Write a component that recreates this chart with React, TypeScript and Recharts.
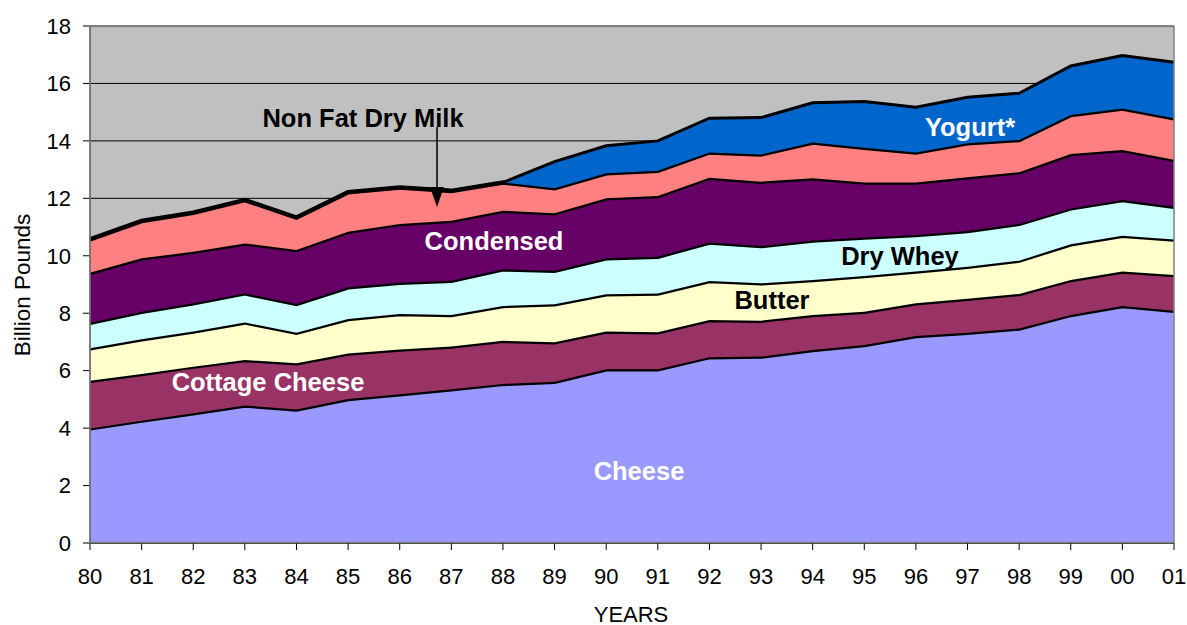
import { AreaChart, Area, XAxis, YAxis, CartesianGrid } from "recharts";

const years = ["80", "81", "82", "83", "84", "85", "86", "87", "88", "89", "90", "91", "92", "93", "94", "95", "96", "97", "98", "99", "00", "01"];

// billion pounds, each product's own share of the stack
const cheese = [3.99, 4.26, 4.52, 4.79, 4.65, 5.01, 5.18, 5.35, 5.54, 5.61, 6.05, 6.05, 6.47, 6.49, 6.72, 6.89, 7.21, 7.32, 7.47, 7.94, 8.25, 8.09];
const cottage = [1.66, 1.62, 1.62, 1.58, 1.61, 1.59, 1.56, 1.49, 1.5, 1.38, 1.31, 1.29, 1.29, 1.25, 1.22, 1.16, 1.14, 1.18, 1.2, 1.22, 1.2, 1.24];
const butter = [1.13, 1.21, 1.22, 1.31, 1.06, 1.2, 1.23, 1.1, 1.21, 1.32, 1.3, 1.35, 1.36, 1.3, 1.22, 1.25, 1.1, 1.12, 1.16, 1.24, 1.25, 1.24];
const dryWhey = [0.89, 0.96, 0.99, 1.01, 1.0, 1.1, 1.09, 1.19, 1.28, 1.17, 1.25, 1.28, 1.34, 1.3, 1.37, 1.34, 1.27, 1.24, 1.28, 1.25, 1.24, 1.14];
const condensed = [1.74, 1.86, 1.79, 1.74, 1.88, 1.94, 2.05, 2.09, 2.04, 2.0, 2.09, 2.11, 2.26, 2.24, 2.17, 1.91, 1.83, 1.87, 1.8, 1.89, 1.74, 1.63];
const nonFatDryMilk = [1.16, 1.3, 1.36, 1.51, 1.13, 1.37, 1.27, 1.04, 0.98, 0.87, 0.87, 0.88, 0.88, 0.95, 1.24, 1.21, 1.05, 1.19, 1.12, 1.36, 1.45, 1.45];
const yogurt = [0, 0, 0, 0, 0, 0, 0, 0, 0, 0.93, 0.96, 1.04, 1.19, 1.28, 1.39, 1.61, 1.57, 1.6, 1.63, 1.71, 1.84, 1.95];

const yTicks = [0, 2, 4, 6, 8, 10, 12, 14, 16, 18];

const data = years.map((year, i) => ({
  year,
  cheese: cheese[i],
  cottage: cottage[i],
  butter: butter[i],
  dryWhey: dryWhey[i],
  condensed: condensed[i],
  nonFatDryMilk: nonFatDryMilk[i],
  yogurt: yogurt[i],
}));

const font = "Arial, 'Liberation Sans', sans-serif";

const series = [
  { key: "cheese", fill: "#9999FF" },
  { key: "cottage", fill: "#993366" },
  { key: "butter", fill: "#FFFFCC" },
  { key: "dryWhey", fill: "#CCFFFF" },
  { key: "condensed", fill: "#660066" },
  { key: "nonFatDryMilk", fill: "#FF8080" },
  { key: "yogurt", fill: "#0066CC" },
];

const labelStyle = { fontFamily: font, fontWeight: 700, fontSize: 25.5 };

export default function App() {
  return (
    <div style={{ position: "absolute", left: 0, top: 0, width: 1187, height: 625, background: "#fff", fontFamily: font }}>
      <AreaChart
        width={1187}
        height={625}
        data={data}
        margin={{ top: 26, right: 13, bottom: 0, left: 20 }}
      >
        <CartesianGrid vertical={false} stroke="#000" strokeOpacity={1} fill="#C0C0C0" fillOpacity={1} />
        <XAxis
          dataKey="year"
          interval={0}
          height={82}
          tickSize={7}
          tickMargin={18}
          stroke="#000"
          tick={{ fill: "#000", fontSize: 22, fontFamily: font }}
        />
        <YAxis
          width={70}
          domain={[0, 18]}
          ticks={yTicks}
          interval={0}
          tickSize={7}
          tickMargin={12}
          stroke="#000"
          tick={{ fill: "#000", fontSize: 22, fontFamily: font }}
        />
        {series.map((s) => (
          <Area
            key={s.key}
            type="linear"
            dataKey={s.key}
            stackId="1"
            fill={s.fill}
            fillOpacity={1}
            stroke="#000"
            strokeWidth={s.key === "yogurt" ? 3 : 4.5}
            isAnimationActive={false}
            dot={false}
            activeDot={false}
          />
        ))}
      </AreaChart>
      <svg width={1187} height={625} style={{ position: "absolute", left: 0, top: 0, pointerEvents: "none" }}>
        <rect x={90} y={26.5} width={1084} height={516} fill="none" stroke="#808080" strokeWidth={1.5} />
        <text x={22} y={285} transform="rotate(-90 22 285)" textAnchor="middle" dominantBaseline="central" fontFamily={font} fontSize={22.5} fill="#000">
          Billion Pounds
        </text>
        <text x={631} y={614} textAnchor="middle" dominantBaseline="central" fontFamily={font} fontSize={22} fill="#000">
          YEARS
        </text>
        <text x={363} y={118} textAnchor="middle" dominantBaseline="central" {...labelStyle} fill="#000">Non Fat Dry Milk</text>
        <line x1={437} y1={127} x2={437} y2={190} stroke="#000" strokeWidth={1.5} />
        <polygon points="430,187 444,187 437,207" fill="#000" />
        <text x={494} y={241} textAnchor="middle" dominantBaseline="central" {...labelStyle} fill="#fff">Condensed</text>
        <text x={268} y={382} textAnchor="middle" dominantBaseline="central" {...labelStyle} fill="#fff">Cottage Cheese</text>
        <text x={639} y={471} textAnchor="middle" dominantBaseline="central" {...labelStyle} fill="#fff">Cheese</text>
        <text x={772} y={300} textAnchor="middle" dominantBaseline="central" {...labelStyle} fill="#000">Butter</text>
        <text x={900} y={256} textAnchor="middle" dominantBaseline="central" {...labelStyle} fill="#000">Dry Whey</text>
        <text x={970} y={127} textAnchor="middle" dominantBaseline="central" {...labelStyle} fill="#fff">Yogurt*</text>
      </svg>
    </div>
  );
}
